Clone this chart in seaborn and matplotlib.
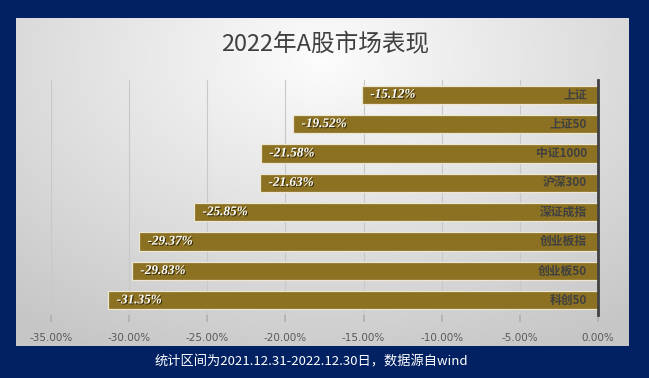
import numpy as np
import matplotlib
matplotlib.use("Agg")
import matplotlib.pyplot as plt
import matplotlib.patheffects as pe
import seaborn as sns

categories = ["上证", "上证50", "中证1000", "沪深300", "深证成指", "创业板指", "创业板50", "科创50"]
values = [-15.12, -19.52, -21.58, -21.63, -25.85, -29.37, -29.83, -31.35]
xticks = [-35, -30, -25, -20, -15, -10, -5, 0]
xtick_labels = ["-35.00%", "-30.00%", "-25.00%", "-20.00%", "-15.00%", "-10.00%", "-5.00%", "0.00%"]
title = "2022年A股市场表现"
footer = "统计区间为2021.12.31-2022.12.30日，数据源自wind"

sns.set_theme(style="white")
plt.rcParams['font.family'] = ['Noto Sans CJK SC', 'DejaVu Sans']
plt.rcParams['axes.unicode_minus'] = False

W, H = 649, 378
fig = plt.figure(figsize=(W / 100, H / 100), dpi=100)
fig.patch.set_facecolor("#022163")

# background panel with radial gradient
px0, px1, py0, py1 = 16, 629, 18, 346
bg = fig.add_axes([px0 / W, 1 - py1 / H, (px1 - px0) / W, (py1 - py0) / H])
yy, xx = np.mgrid[0:1:200j, 0:1:300j]
r = np.sqrt(((xx - 0.5) / 0.75) ** 2 + ((yy - 0.12) / 0.95) ** 2)
g = np.clip(0.99 - 0.2 * r, 0.78, 0.99)
bg.imshow(np.dstack([g, g, g]), aspect="auto", extent=[0, 1, 1, 0], interpolation="bilinear")
bg.set_axis_off()

ax = fig.add_axes([51 / W, 1 - 315 / H, (598 - 51) / W, (315 - 80) / H])
ax.set_facecolor("none")
sns.barplot(x=values, y=categories, orient="h", color="#8B7121", saturation=1,
            width=0.62, edgecolor="#EDE6D2", linewidth=0.9, ax=ax, zorder=3)
ax.set_xlim(-35, 0)
ax.set_ylim(7.5, -0.5)
ax.set_xticks(xticks)
ax.set_xticklabels(xtick_labels, fontsize=7.5, color="#595959", family=["DejaVu Sans"])
ax.set_yticks([])
ax.set_xlabel("")
ax.set_ylabel("")
ax.grid(axis="x", color="#c8c8c8", linewidth=0.8, zorder=0)
ax.tick_params(axis="x", length=5, color="#b0b0b0", pad=8, bottom=True)
for s in ["left", "top", "bottom"]:
    ax.spines[s].set_visible(False)
ax.spines["right"].set_visible(True)
ax.spines["right"].set_color("#404040")
ax.spines["right"].set_linewidth(2)
ax.spines["right"].set_zorder(5)

for i, (c, v) in enumerate(zip(categories, values)):
    ax.text(v + 0.55, i, f"{v:.2f}%", ha="left", va="center", color="white",
            fontsize=9.5, fontweight="bold", style="italic", family=["Liberation Serif"], zorder=4,
            path_effects=[pe.withSimplePatchShadow(offset=(0.8, -0.8), shadow_rgbFace="black", alpha=0.6)])
    ax.text(-0.7, i, c, ha="right", va="center", color="#404040",
            fontsize=8.5, fontweight="bold", zorder=4)

fig.text(325 / W, 1 - 45 / H, title, ha="center", va="center", fontsize=17, color="#404040")
fig.text(311 / W, 1 - 362 / H, footer, ha="center", va="center", fontsize=9.5, color="white")

fig.savefig("out.png", dpi=100, facecolor=fig.get_facecolor())
